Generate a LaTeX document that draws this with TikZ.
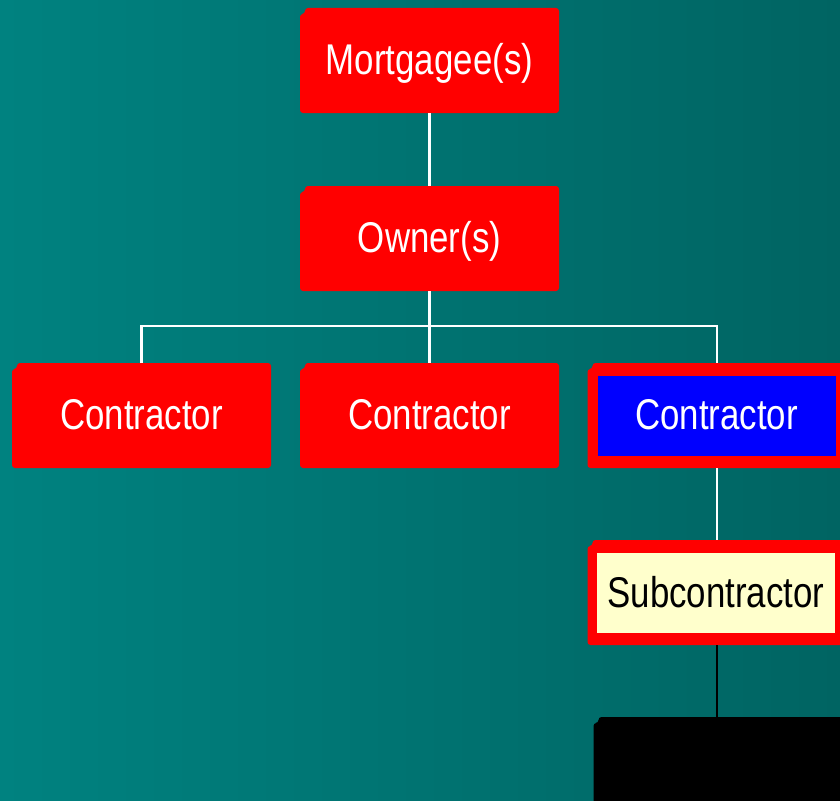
\documentclass[tikz,border=0pt]{standalone}
\usepackage{fontspec}
\setmainfont{Liberation Sans}[FakeStretch=0.81]
\usetikzlibrary{calc,backgrounds}
\definecolor{tealL}{RGB}{0,130,128}
\definecolor{tealR}{RGB}{0,100,98}
\definecolor{boxred}{RGB}{255,0,0}
\definecolor{boxblue}{RGB}{0,0,255}
\definecolor{boxcream}{RGB}{255,255,204}
\newcommand\notchfill[2]{%
  \fill[#2, rounded corners=3pt] ($(#1.north west)+(5pt,0pt)$) -- (#1.north east) -- (#1.south east) -- (#1.south west) -- ($(#1.north west)+(0pt,-6pt)$) -- ($(#1.north west)+(5pt,-6pt)$) -- cycle;}
\begin{document}
\begin{tikzpicture}[x=1pt,y=-1pt,
  boxshape/.style={minimum width=259pt, minimum height=105pt, inner sep=0pt, outer sep=0pt},
  boxlabel/.style={font=\fontsize{43}{50}\selectfont, text height=31pt, text depth=3pt, inner sep=0pt},
  innerbox/.style={minimum width=238pt, minimum height=80pt, inner sep=0pt, outer sep=0pt},
  wire/.style={draw=white, line width=2.5pt},
  blackwire/.style={draw=black, line width=2.5pt}]
\useasboundingbox (0,0) rectangle (840,800);
% outer boxes
\node[boxshape] (mort) at (429.5,60.5) {};
\node[boxshape] (own) at (429.5,238.5) {};
\node[boxshape] (con1) at (141.5,415.5) {};
\node[boxshape] (con2) at (429.5,415.5) {};
\node[boxshape] (con3) at (717,415.5) {};
\node[boxshape] (sub) at (717,592.5) {};
\node[boxshape] (blk) at (723,769.5) {};
% labels
\node[boxlabel, text=white] (mortl) at (mort.center) {Mortgagee(s)};
\node[boxlabel, text=white] (ownl) at (own.center) {Owner(s)};
\node[boxlabel, text=white] (con1l) at (con1.center) {Contractor};
\node[boxlabel, text=white] (con2l) at (con2.center) {Contractor};
\node[innerbox, fill=boxblue] (con3in) at (716.5,415.5) {};
\node[boxlabel, text=white] (con3l) at (con3in.center) {Contractor};
\node[innerbox, fill=boxcream] (subin) at (716,593) {};
\node[boxlabel, text=black] (subl) at (subin.center) {Subcontractor};
\begin{scope}[on background layer]
  \shade[left color=tealL, right color=tealR] (0,0) rectangle (840,800);
  \notchfill{mort}{boxred}
  \notchfill{own}{boxred}
  \notchfill{con1}{boxred}
  \notchfill{con2}{boxred}
  \notchfill{con3}{boxred}
  \notchfill{sub}{boxred}
  \notchfill{blk}{black}
  \coordinate (bus) at (429.5,326);
  \draw[wire] (mort.south) -- (own.north);
  \draw[wire] (own.south) -- (bus);
  \draw[wire] (con1.north) |- (bus) -| (con3.north);
  \draw[wire] (bus) -- (con2.north);
  \draw[wire] (con3.south) -- (sub.north);
  \draw[blackwire] (sub.south) -- (sub.south |- blk.north);
\end{scope}
\end{tikzpicture}
\end{document}
